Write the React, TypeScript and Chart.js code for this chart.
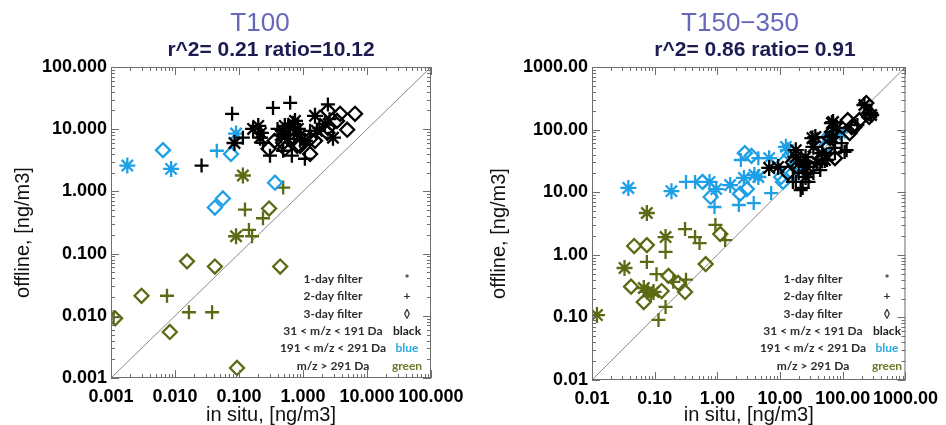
import React, { useEffect, useRef } from "react";
import { Chart, registerables } from "chart.js";
Chart.register(...registerables);

type P = [number, number];

// ---------- Panel 1: T100 ----------
const T100_TITLE = "T100";
const T100_STATS = "r^2= 0.21 ratio=10.12";
const T100_TICKS = [0.001, 0.01, 0.1, 1, 10, 100];
const T100_TICK_LABELS = ["0.001", "0.010", "0.100", "1.000", "10.000", "100.000"];

const t100Black1: P[] = [[0.166,10.1],[0.2,11.3],[0.213,7.3],[0.22,8.7],[0.085,6.0],[0.49,9.4],[0.52,11.3],[0.63,10.5],[0.70,12.2],[0.75,13.6],[0.81,8.4],[0.83,10.1],[1.07,6.5],[1.54,16.4],[1.65,9.4],[2.2,12.2],[2.94,7.3],[0.45,8.0],[0.9,8.0],[0.58,7.0]];
const t100Black2: P[] = [[0.026,2.6],[0.078,17.7],[0.34,22],[0.63,26.5],[2.45,25],[0.115,7.3],[0.237,6.05],[0.305,3.75],[0.49,4.5],[0.67,3.75],[1.07,3.35],[0.9,6.5],[0.4,10.1],[1.29,9.4],[1.8,10.5],[2.6,14.5]];
const t100Black3: P[] = [[2.45,19.7],[3.8,17.7],[6.5,17.7],[4.9,9.8],[2.4,8.75],[0.9,5.4],[0.49,6.05],[0.52,4.85],[1.29,7.0],[0.29,4.85],[0.81,5.4],[1.29,4.0],[1.54,6.5],[3.4,13.6],[2.45,10.5],[0.36,6.5]];
const t100Blue1: P[] = [[0.0018,2.6],[0.0087,2.3],[0.09,8.5]];
const t100Blue2: P[] = [[0.045,4.5]];
const t100Blue3: P[] = [[0.0065,4.6],[0.075,4.0],[0.042,0.55],[0.056,0.77],[0.365,1.38]];
const t100Green1: P[] = [[0.115,1.8],[0.09,0.19]];
const t100Green2: P[] = [[0.124,0.51],[0.237,0.37],[0.49,1.15],[0.16,0.19],[0.143,0.24],[0.0075,0.021],[0.0165,0.0114],[0.038,0.0114],[0.0011,0.0095]];
const t100Green3: P[] = [[0.295,0.53],[0.0154,0.075],[0.042,0.062],[0.44,0.062],[0.003,0.021],[0.00116,0.0091],[0.0083,0.0055],[0.093,0.00145]];

// ---------- Panel 2: T150-350 ----------
const T150_TITLE = "T150\u2212350";
const T150_STATS = "r^2= 0.86 ratio= 0.91";
const T150_TICKS = [0.01, 0.1, 1, 10, 100, 1000];
const T150_TICK_LABELS = ["0.01", "0.10", "1.00", "10.00", "100.00", "1000.00"];

const t150Black1: P[] = [[6.7,24.4],[9.3,25.3],[17.8,47],[17.8,36.5],[23.7,30],[25.5,36.5],[25.5,17.5],[27.4,25.3],[32.8,73],[34,53],[36.5,76],[39.3,30],[47,42],[52,32.7],[67,76],[67,127],[70,132],[80.6,106],[221,247],[284,171]];
const t150Black2: P[] = [[17.8,14.6],[22.9,11.7],[21.3,10.8],[16,14.6],[28.4,14.6],[19.8,20.3],[34,20.3],[23.7,27],[43.7,22.6],[56,32.7],[75,51],[75,42],[107,44],[115,47],[96,61],[171,118],[284,184]];
const t150Black3: P[] = [[16,30],[13.3,20.3],[19.1,25.3],[30.5,24.4],[47,35],[75,35],[62.7,73],[58,53],[67,91.6],[120,142],[129,88],[138,110],[154,110],[184,142],[237,266],[264,159],[264,184]];
const t150Blue1: P[] = [[0.038,11.7],[0.185,10.4],[0.75,14.6],[0.96,11.2],[1.6,13],[2.65,16.9],[3.9,18.8],[6.7,35],[12.4,53],[90,90],[4.5,17.5],[13.3,47]];
const t150Blue2: P[] = [[0.316,14.6],[0.44,14.6],[0.9,5.8],[2.37,32.7],[2.2,6.25],[3.8,6.7],[4.5,35],[7.2,9.7]];
const t150Blue3: P[] = [[0.58,14.6],[0.78,8.4],[2.74,42],[3.5,38],[2.95,11.2],[2.3,9.4],[11.1,14.6],[11.5,30],[16,20.3],[17.8,25.3],[56,57],[58,76],[10.4,17.5]];
const t150Green1: P[] = [[0.075,4.65],[0.149,1.92],[0.033,0.615],[0.067,0.295],[0.077,0.255],[0.096,0.255],[0.012,0.109]];
const t150Green2: P[] = [[0.149,1.11],[0.075,0.77],[0.107,0.49],[0.305,2.58],[0.44,1.92],[0.52,1.54],[0.93,3.0],[1.33,1.72],[0.087,0.228],[0.198,0.37],[0.316,0.40],[0.149,0.147],[0.115,0.091]];
const t150Green3: P[] = [[0.047,1.38],[0.075,1.43],[0.65,0.71],[1.11,2.15],[0.042,0.31],[0.067,0.176],[0.129,0.264],[0.166,0.46],[0.237,0.355],[0.305,0.255]];

// ---------- Legend ----------
const LEGEND_TEXT = ["1-day filter", "2-day filter", "3-day filter", "31 < m/z < 191 Da", "191 < m/z < 291 Da", "m/z > 291 Da"];
const LEGEND_KEY = ["*", "+", "\u25CA", "black", "blue", "green"];
const LEGEND_KEY_COLORS = ["#333333", "#333333", "#333333", "#222222", "#2aa8e0", "#6b7b2c"];
const MINOR_MULTS = [1, 2, 3, 4, 5, 6, 7, 8, 9];

const BLACK = "#000000";
const BLUE = "#1fa0e6";
const GREEN = "#5b6b14";

const TICK_FONT = { family: "'Liberation Sans', Arial, sans-serif", size: 18, weight: "bold" as const };

interface PanelCfg {
  left: number;
  title: string;
  stats: string;
  ticks: number[];
  tickLabels: string[];
  groups: { data: P[]; color: string; style: string }[];
  yWidth: number;
  xHeight: number;
  padRight: number;
  titleX: number;
  statsX: number;
  yTitleX: number;
  legendX: number;
  keyX: number;
}

const styleRadius: Record<string, number> = { star: 8, cross: 7, rectRot: 7 };

function Panel({ cfg }: { cfg: PanelCfg }) {
  const ref = useRef<HTMLCanvasElement>(null);
  useEffect(() => {
    const min = cfg.ticks[0];
    const max = cfg.ticks[cfg.ticks.length - 1];
    const datasets: any[] = cfg.groups.map((g) => ({
      data: g.data.map(([x, y]) => ({ x, y })),
      pointStyle: g.style,
      pointRadius: styleRadius[g.style],
      pointHoverRadius: styleRadius[g.style],
      borderColor: g.color,
      backgroundColor: "rgba(0,0,0,0)",
      pointBorderWidth: 2.3,
      showLine: false,
    }));
    datasets.push({
      data: [{ x: min, y: min }, { x: max, y: max }],
      showLine: true,
      pointRadius: 0,
      borderColor: "#8a8a8a",
      borderWidth: 1,
    });

    const framePlugin = {
      id: "frame",
      afterDatasetsDraw(chart: any) {
        const { ctx, chartArea: a, scales } = chart;
        const xs = scales.x, ys = scales.y;
        ctx.save();
        ctx.strokeStyle = "#6e6e6e";
        ctx.lineWidth = 1;
        ctx.strokeRect(a.left + 0.5, a.top + 0.5, a.right - a.left - 1, a.bottom - a.top - 1);
        ctx.beginPath();
        cfg.ticks.forEach((d) => {
          MINOR_MULTS.forEach((k) => {
            const v = d * k;
            if (v > max * 1.0001) return;
            const len = k === 1 ? 8 : 4;
            const px = Math.round(xs.getPixelForValue(v)) + 0.5;
            ctx.moveTo(px, a.bottom); ctx.lineTo(px, a.bottom - len);
            ctx.moveTo(px, a.top); ctx.lineTo(px, a.top + len);
            const py = Math.round(ys.getPixelForValue(v)) + 0.5;
            ctx.moveTo(a.left, py); ctx.lineTo(a.left + len, py);
            ctx.moveTo(a.right, py); ctx.lineTo(a.right - len, py);
          });
        });
        ctx.stroke();
        ctx.restore();
      },
      afterDraw(chart: any) {
        const { ctx, chartArea: a } = chart;
        ctx.save();
        ctx.textAlign = "center";
        ctx.textBaseline = "middle";
        ctx.fillStyle = "#6767bb";
        ctx.font = "26px 'Liberation Sans', Arial, sans-serif";
        ctx.fillText(cfg.title, cfg.titleX, 24);
        ctx.fillStyle = "#1c1c52";
        ctx.font = "bold 21px 'Liberation Sans', Arial, sans-serif";
        ctx.fillText(cfg.stats, cfg.statsX, 50);
        // axis titles
        ctx.fillStyle = "#111111";
        ctx.font = "20px 'Liberation Sans', Arial, sans-serif";
        ctx.fillText("in situ, [ng/m3]", (a.left + a.right) / 2, 415);
        ctx.save();
        ctx.translate(cfg.yTitleX, (a.top + a.bottom) / 2 + 10);
        ctx.rotate(-Math.PI / 2);
        ctx.fillText("offline, [ng/m3]", 0, 0);
        ctx.restore();
        // legend
        ctx.font = "bold 12px Lato, 'Open Sans', sans-serif";
        LEGEND_TEXT.forEach((t, i) => {
          const y = 279 + i * 17.4;
          ctx.fillStyle = "#2e2e2e";
          ctx.fillText(t, cfg.legendX, y);
          ctx.fillStyle = LEGEND_KEY_COLORS[i];
          ctx.fillText(LEGEND_KEY[i], cfg.keyX, y);
        });
        ctx.restore();
      },
    };

    const chart = new Chart(ref.current!, {
      type: "scatter",
      data: { datasets },
      options: {
        responsive: false,
        animation: false,
        devicePixelRatio: 1,
        layout: { padding: { top: 67, right: cfg.padRight, left: 0, bottom: 0 } },
        plugins: { legend: { display: false }, tooltip: { enabled: false }, title: { display: false } },
        scales: {
          x: {
            type: "logarithmic",
            min,
            max,
            grid: { display: false, drawTicks: false },
            border: { display: false },
            afterBuildTicks: (s: any) => { s.ticks = cfg.ticks.map((v) => ({ value: v })); },
            afterFit: (s: any) => { s.height = cfg.xHeight; },
            ticks: {
              autoSkip: false,
              maxRotation: 0,
              padding: 8,
              color: "#000",
              font: TICK_FONT,
              callback: (_v: any, i: number) => cfg.tickLabels[i],
            },
          },
          y: {
            type: "logarithmic",
            min,
            max,
            grid: { display: false, drawTicks: false },
            border: { display: false },
            afterBuildTicks: (s: any) => { s.ticks = cfg.ticks.map((v) => ({ value: v })); },
            afterFit: (s: any) => { s.width = cfg.yWidth; },
            ticks: {
              autoSkip: false,
              padding: 4,
              color: "#000",
              font: TICK_FONT,
              callback: (_v: any, i: number) => cfg.tickLabels[i],
            },
          },
        },
      } as any,
      plugins: [framePlugin],
    });
    return () => chart.destroy();
  }, []);
  return (
    <div style={{ position: "absolute", left: cfg.left, top: 0, width: 473, height: 425 }}>
      <canvas ref={ref} width={473} height={425} style={{ display: "block" }} />
    </div>
  );
}

const leftCfg: PanelCfg = {
  left: 0,
  title: T100_TITLE,
  stats: T100_STATS,
  ticks: T100_TICKS,
  tickLabels: T100_TICK_LABELS,
  groups: [
    { data: t100Black1, color: BLACK, style: "star" },
    { data: t100Black2, color: BLACK, style: "cross" },
    { data: t100Black3, color: BLACK, style: "rectRot" },
    { data: t100Blue1, color: BLUE, style: "star" },
    { data: t100Blue2, color: BLUE, style: "cross" },
    { data: t100Blue3, color: BLUE, style: "rectRot" },
    { data: t100Green1, color: GREEN, style: "star" },
    { data: t100Green2, color: GREEN, style: "cross" },
    { data: t100Green3, color: GREEN, style: "rectRot" },
  ],
  yWidth: 111,
  xHeight: 47,
  padRight: 42,
  titleX: 260,
  statsX: 271,
  yTitleX: 23,
  legendX: 333,
  keyX: 407,
};

const rightCfg: PanelCfg = {
  left: 473,
  title: T150_TITLE,
  stats: T150_STATS,
  ticks: T150_TICKS,
  tickLabels: T150_TICK_LABELS,
  groups: [
    { data: t150Black1, color: BLACK, style: "star" },
    { data: t150Black2, color: BLACK, style: "cross" },
    { data: t150Black3, color: BLACK, style: "rectRot" },
    { data: t150Blue1, color: BLUE, style: "star" },
    { data: t150Blue2, color: BLUE, style: "cross" },
    { data: t150Blue3, color: BLUE, style: "rectRot" },
    { data: t150Green1, color: GREEN, style: "star" },
    { data: t150Green2, color: GREEN, style: "cross" },
    { data: t150Green3, color: GREEN, style: "rectRot" },
  ],
  yWidth: 119,
  xHeight: 45,
  padRight: 38,
  titleX: 267,
  statsX: 282,
  yTitleX: 26,
  legendX: 340,
  keyX: 414,
};

export default function App() {
  return (
    <div style={{ position: "fixed", left: 0, top: 0, width: 946, height: 425, background: "#fff", overflow: "hidden" }}>
      <Panel cfg={leftCfg} />
      <Panel cfg={rightCfg} />
    </div>
  );
}
